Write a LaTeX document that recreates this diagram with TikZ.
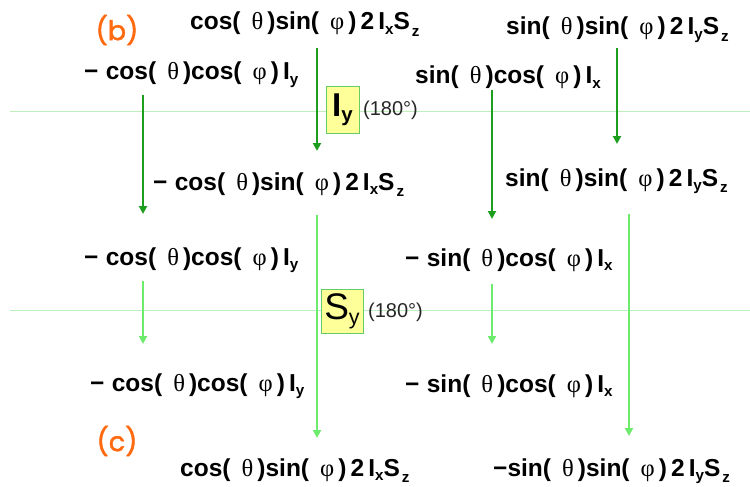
\documentclass[tikz,border=0pt]{standalone}
\usepackage{fontspec}
\usepackage{graphicx}
\setmainfont{Liberation Sans}
\newfontfamily\grk{Liberation Serif}
\newfontfamily\lblfont{Poppins}[FakeBold=1.6]
\usetikzlibrary{arrows.meta}

\definecolor{darkgr}{HTML}{1E9E1E}
\definecolor{lightgr}{HTML}{6CEB6C}
\definecolor{guidegr}{HTML}{BDF0BD}
\definecolor{boxfill}{HTML}{FFFF99}
\definecolor{boxline}{HTML}{66CC66}
\definecolor{lblorange}{HTML}{FF6A10}

% Greek letters in a light upright face, spin-operator subscripts
\newcommand\gth{{\grk\mdseries θ}}
\newcommand\gph{{\grk\mdseries φ}}
\newcommand\sbx[1]{\raisebox{-0.18em}{\scalebox{0.62}{#1}}}
\newcommand\sbz[1]{\raisebox{-0.28em}{\scalebox{0.62}{#1}}}
\newcommand\opIxSz{2\,I\sbx{x}S\hspace{0.08em}\sbz{z}}
\newcommand\opIySz{2\,I\sbx{y}S\hspace{0.08em}\sbz{z}}
\newcommand\tCC{cos(\hspace{0.45em}\gth\,)cos(\hspace{0.45em}\gph\,)\,}
\newcommand\tCS{cos(\hspace{0.45em}\gth\,)sin(\hspace{0.45em}\gph\,)\,}
\newcommand\tSC{sin(\hspace{0.45em}\gth\,)cos(\hspace{0.45em}\gph\,)\,}
\newcommand\tSS{sin(\hspace{0.45em}\gth\,)sin(\hspace{0.45em}\gph\,)\,}

\tikzset{
  term/.style={anchor=base west, inner sep=0pt, font=\fontsize{24.5}{27}\selectfont\bfseries},
  guide/.style={draw=guidegr, line width=0.9pt},
  darr/.style={draw=darkgr, line width=2.4pt, -{Triangle[width=8pt,length=8pt]}},
  larr/.style={draw=lightgr, line width=2.7pt, -{Triangle[width=8pt,length=8pt]}},
  pulse/.style={draw=boxline, fill=boxfill, line width=1pt, inner sep=0pt},
  angle/.style={anchor=west, inner sep=0pt, text=black!85, font=\fontsize{20}{23}\selectfont},
  panel/.style={text=lblorange, inner sep=0pt, font=\lblfont\fontsize{27}{30}\selectfont},
}

\begin{document}
\begin{tikzpicture}[x=1pt,y=-1pt]
\useasboundingbox (0,0) rectangle (750,487);

% pulse boundaries
\coordinate (g1l) at (10,111);
\coordinate (g1r) at (750,111);
\coordinate (g2l) at (10,310);
\coordinate (g2r) at (750,310);
\draw[guide] (g1l) -- (g1r);
\draw[guide] (g2l) -- (g2r);

% panel labels
\node[panel] (lb) at (117,30) {(b)};
\node[panel] (lc) at (117,441) {(c)};

% row 1
\node[term] (r1a) at (190,30) {\tCS\opIxSz};
\node[term] (r1b) at (506,35) {\tSS\opIySz};
% row 2
\node[term] (r2a) at (84,80) {−\hspace{0.3em}\tCC I\sbx{y}};
\node[term] (r2b) at (415,84) {\tSC I\sbx{x}};
% after the I_y pulse
\node[term] (r3a) at (153,190) {−\hspace{0.3em}\tCS\opIxSz};
\node[term] (r3b) at (505,186) {\tSS\opIySz};
\node[term] (r4a) at (84,265) {−\hspace{0.3em}\tCC I\sbx{y}};
\node[term] (r4b) at (405,266) {−\hspace{0.3em}\tSC I\sbx{x}};
% after the S_y pulse
\node[term] (r5a) at (90,391) {−\hspace{0.3em}\tCC I\sbx{y}};
\node[term] (r5b) at (405,392) {−\hspace{0.3em}\tSC I\sbx{x}};
\node[term] (r6a) at (180,476) {\tCS\opIxSz};
\node[term] (r6b) at (493,476) {−\tSS\opIySz};

% pulses
\node[pulse, minimum width=33pt, minimum height=46pt] (pIy) at (342.5,110)
  {\fontsize{33}{36}\selectfont\bfseries I\raisebox{-0.15em}{\scalebox{0.62}{y}}};
\node[angle] (aIy) at (363,110) {(180°)};
\node[pulse, minimum width=42pt, minimum height=44pt] (pSy) at (342,311)
  {\fontsize{37}{40}\selectfont S\raisebox{-0.14em}{\scalebox{0.58}{y}}};
\node[angle] (aSy) at (368,312) {(180°)};

% evolution under the I_y pulse
\coordinate (d1s) at (317,48);  \coordinate (d1e) at (317,151);
\coordinate (d2s) at (143,95);  \coordinate (d2e) at (143,214);
\coordinate (d3s) at (492,90);  \coordinate (d3e) at (492,219);
\coordinate (d4s) at (617,48);  \coordinate (d4e) at (617,144);
\draw[darr] (d1s) -- (d1e);
\draw[darr] (d2s) -- (d2e);
\draw[darr] (d3s) -- (d3e);
\draw[darr] (d4s) -- (d4e);

% evolution under the S_y pulse
\coordinate (l1s) at (317,215); \coordinate (l1e) at (317,438);
\coordinate (l2s) at (143,281); \coordinate (l2e) at (143,344);
\coordinate (l3s) at (492,284); \coordinate (l3e) at (492,344);
\coordinate (l4s) at (629,214); \coordinate (l4e) at (629,436);
\draw[larr] (l1s) -- (l1e);
\draw[larr] (l2s) -- (l2e);
\draw[larr] (l3s) -- (l3e);
\draw[larr] (l4s) -- (l4e);
\end{tikzpicture}
\end{document}
